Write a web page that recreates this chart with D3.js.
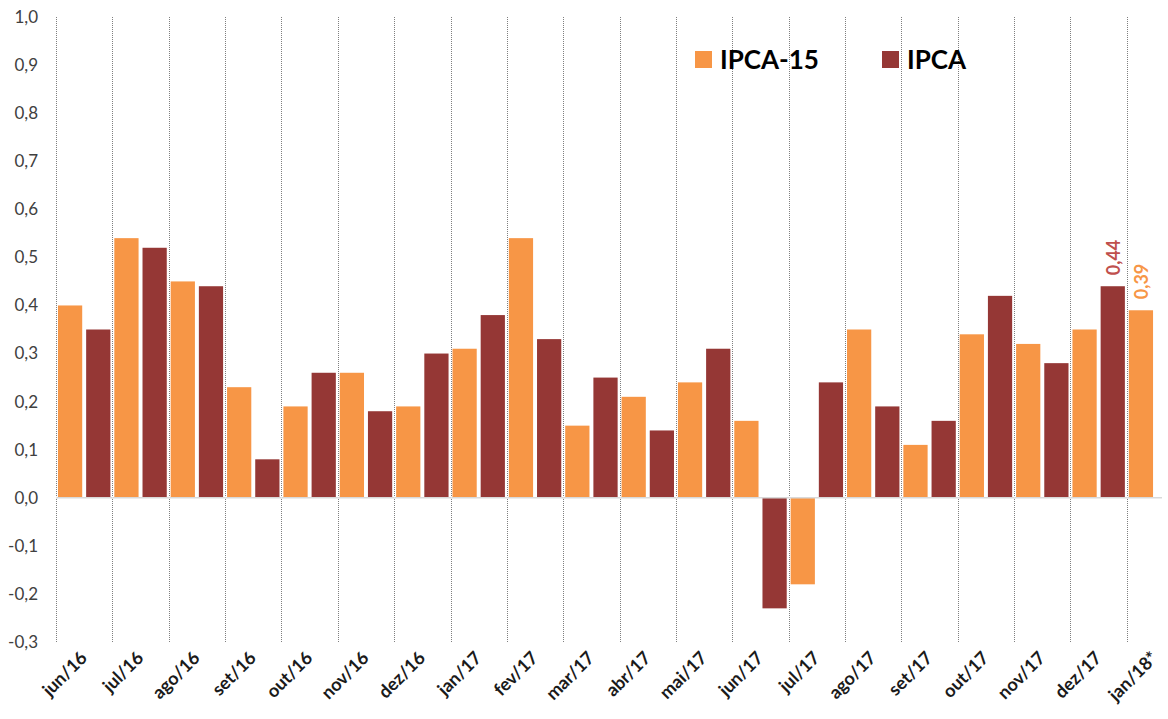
<!DOCTYPE html>
<html><head><meta charset="utf-8">
<script src="https://cdn.jsdelivr.net/npm/d3@7"></script>
<style>body{margin:0;background:#fff;} svg{display:block;}</style>
</head><body>
<svg id="chart" width="1168" height="719"></svg>
<script>
const months = ["jun/16","jul/16","ago/16","set/16","out/16","nov/16","dez/16","jan/17","fev/17","mar/17","abr/17","mai/17","jun/17","jul/17","ago/17","set/17","out/17","nov/17","dez/17","jan/18*"];
const ipca15 = [0.40,0.54,0.45,0.23,0.19,0.26,0.19,0.31,0.54,0.15,0.21,0.24,0.16,-0.18,0.35,0.11,0.34,0.32,0.35,0.39];
const ipca   = [0.35,0.52,0.44,0.08,0.26,0.18,0.30,0.38,0.33,0.25,0.14,0.31,-0.23,0.24,0.19,0.16,0.42,0.28,0.44,null];
const yTicks = [-0.3,-0.2,-0.1,0,0.1,0.2,0.3,0.4,0.5,0.6,0.7,0.8,0.9,1.0];
const seriesNames = ["IPCA-15","IPCA"];
const colors = {"IPCA-15":"#F79646","IPCA":"#953735"};

// Build sequence of bars: IPCA-15 then IPCA for each month
const bars = [];
months.forEach((m,i)=>{
  bars.push({key:m+"|15", month:m, series:"IPCA-15", value:ipca15[i]});
  if (ipca[i] !== null) bars.push({key:m+"|IPCA", month:m, series:"IPCA", value:ipca[i]});
});

const svg = d3.select("#chart");
const slot = 28.18;
const x0 = 56;
const x = d3.scaleBand().domain(bars.map(d=>d.key)).range([x0, x0 + bars.length*slot]).paddingInner(0.14).paddingOuter(0.07);
const y = d3.scaleLinear().domain([-0.3,1.0]).range([642,17]);
const fmt = v => d3.format(".1f")(v).replace(".",",").replace("−","-");

// Vertical dotted separators at the left of each month
const sepX = months.map((m,i)=> Math.round(x0 + 2*i*slot) + 0.5);
svg.append("g").selectAll("line").data(sepX).join("line")
  .attr("x1",d=>d).attr("x2",d=>d).attr("y1",y(1.0)).attr("y2",y(-0.3))
  .attr("stroke","#7f7f7f").attr("stroke-width",1).attr("stroke-dasharray","1,1");

// Y axis labels
const yAxis = d3.axisLeft(y).tickValues(yTicks).tickFormat(fmt).tickSize(0).tickPadding(0);
const yg = svg.append("g").attr("transform","translate(38,0)").call(yAxis);
yg.select(".domain").remove();
yg.selectAll("text").attr("font-family","Lato, 'Open Sans', sans-serif").attr("font-size","17px").attr("fill","#404040");

// Bars
svg.append("g").selectAll("rect").data(bars).join("rect")
  .attr("x",d=>x(d.key)).attr("width",x.bandwidth())
  .attr("y",d=>y(Math.max(0,d.value))).attr("height",d=>Math.abs(y(d.value)-y(0)))
  .attr("fill",d=>colors[d.series]);

// Zero line
svg.append("line").attr("x1",x0).attr("x2",1162).attr("y1",y(0)).attr("y2",y(0))
  .attr("stroke","#d9d9d9").attr("stroke-width",1.5);

// X labels
svg.append("g").selectAll("text").data(months).join("text")
  .attr("transform",(d,i)=>`translate(${x0 + (2*i+1)*slot + 4},${659}) rotate(-45)`)
  .attr("text-anchor","end")
  .attr("font-family","Lato, 'Open Sans', sans-serif").attr("font-weight","bold").attr("font-size","18px")
  .attr("fill","#1a1a1a")
  .text(d=>d);

// Data labels for last values
const lastLabels = [
  {key:"dez/17|IPCA", value:0.44, color:"#C0504D"},
  {key:"jan/18*|15", value:0.39, color:"#F79646"}
];
svg.append("g").selectAll("text").data(lastLabels).join("text")
  .attr("transform",d=>`translate(${x(d.key)+x.bandwidth()/2+7},${y(d.value)-11}) rotate(-90)`)
  .attr("text-anchor","start")
  .attr("font-family","Lato, 'Open Sans', sans-serif").attr("font-weight","bold").attr("font-size","18px")
  .attr("fill",d=>d.color)
  .text(d=>d3.format(".2f")(d.value).replace(".",","));

// Legend
const legendPos = [{name:"IPCA-15", x:695}, {name:"IPCA", x:882}];
const lg = svg.append("g").selectAll("g").data(legendPos).join("g")
  .attr("transform",d=>`translate(${d.x},51)`);
lg.append("rect").attr("width",17).attr("height",17).attr("fill",d=>colors[d.name]);
lg.append("text").attr("x",25).attr("y",18)
  .attr("font-family","Lato, 'Open Sans', sans-serif").attr("font-weight","bold").attr("font-size","26px")
  .attr("fill","#000").text(d=>d.name);
</script>
</body></html>
